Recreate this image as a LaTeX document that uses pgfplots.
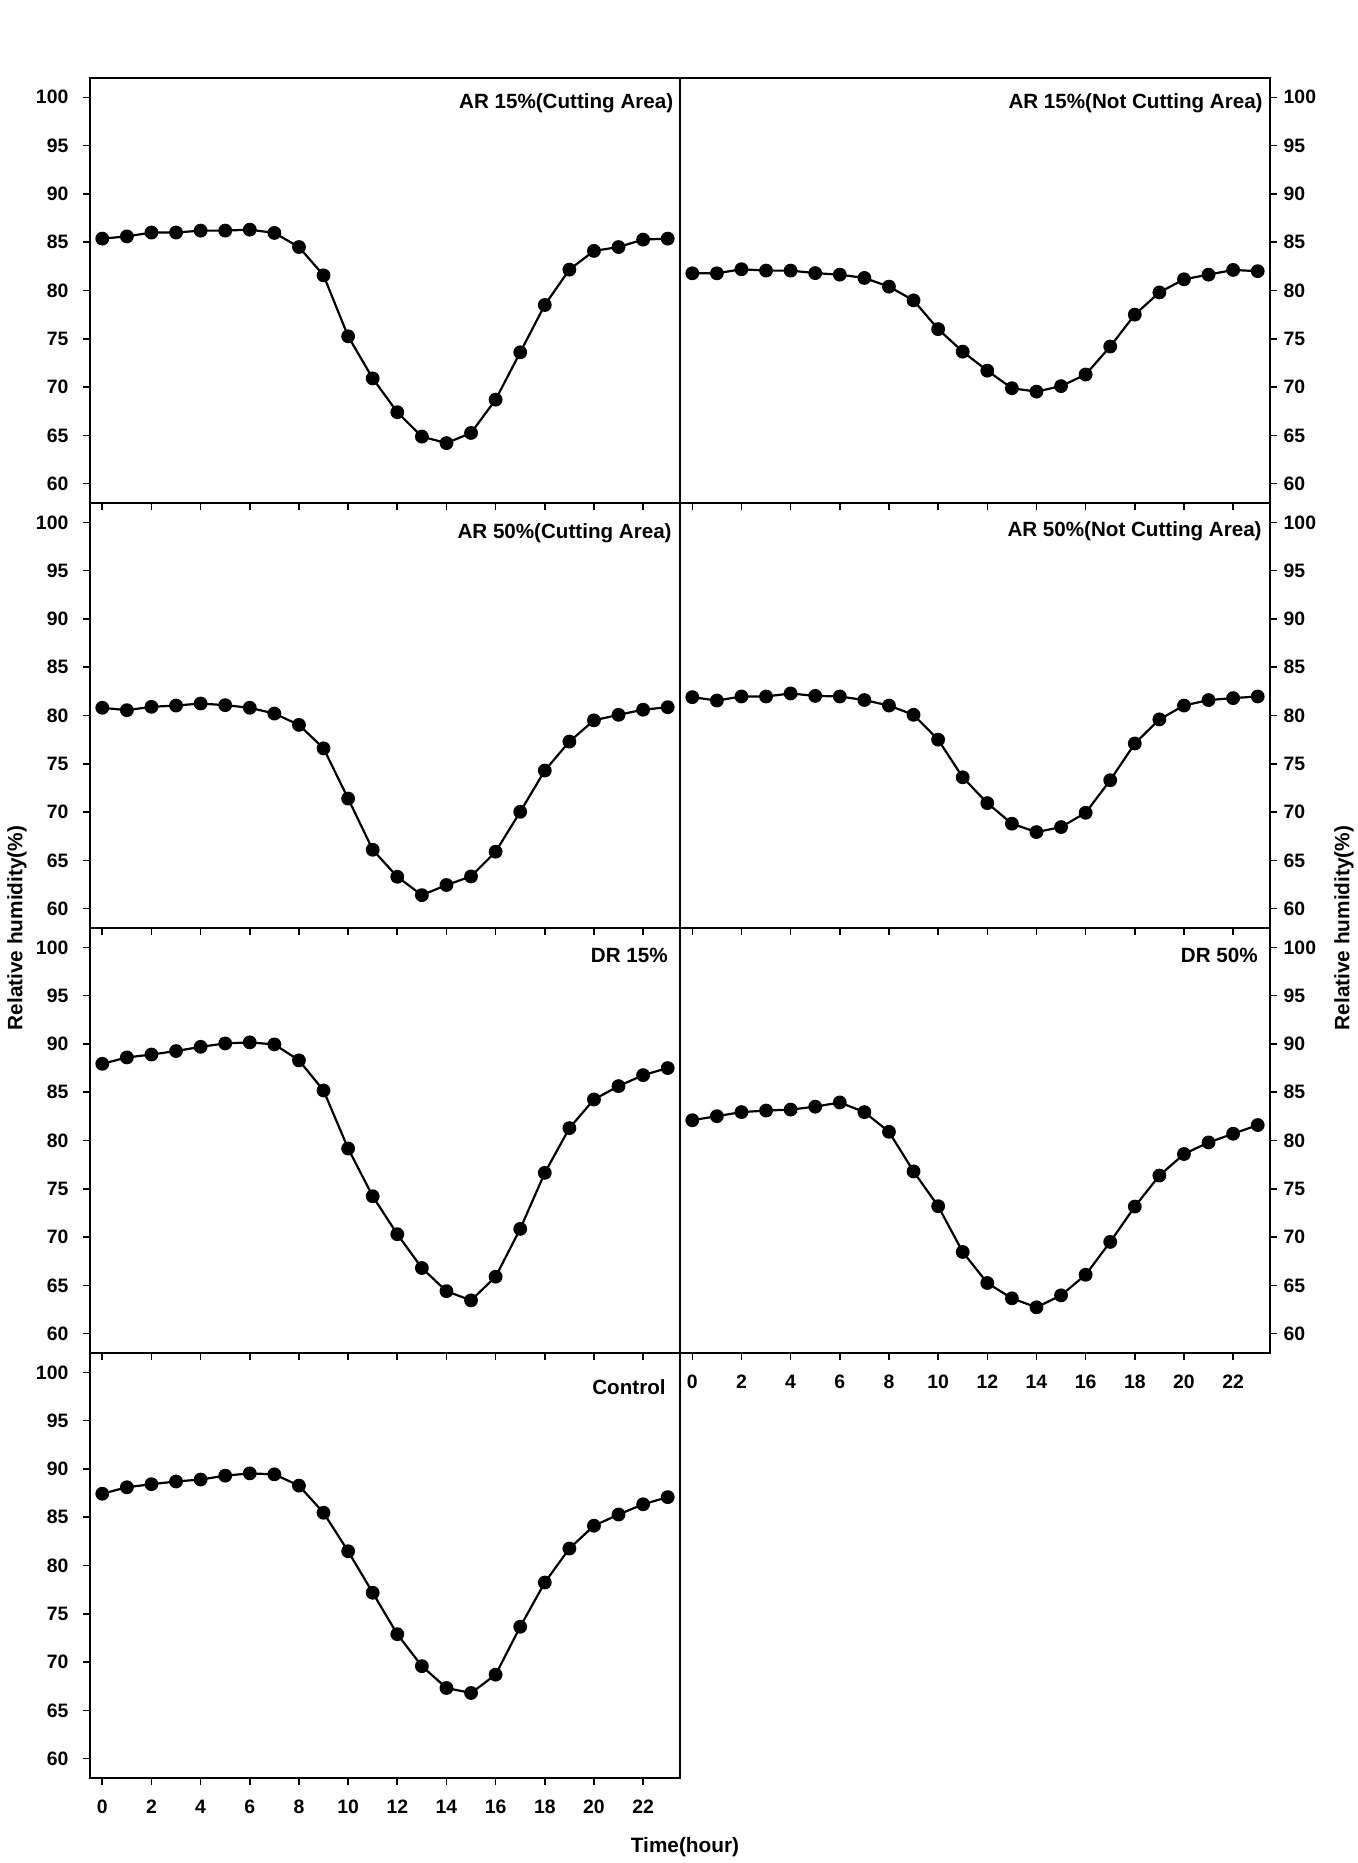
\documentclass[border=0pt]{standalone}
\usepackage{fontspec}
\setmainfont{Liberation Sans}
\usepackage{pgfplots}
\usepackage{pgfplotstable}
\pgfplotsset{compat=1.18}

\pgfplotstableread{
h  a      b      c      d      e      f      g
0  85.37  81.78  80.80  81.90  87.94  82.10  87.43
1  85.60  81.78  80.55  81.55  88.60  82.52  88.10
2  86.00  82.20  80.90  81.97  88.90  82.94  88.42
3  86.00  82.06  81.03  81.97  89.26  83.10  88.70
4  86.20  82.06  81.24  82.28  89.70  83.20  88.90
5  86.20  81.80  81.07  82.03  90.05  83.50  89.30
6  86.30  81.64  80.80  81.97  90.16  83.94  89.54
7  85.96  81.30  80.20  81.60  89.95  82.94  89.44
8  84.50  80.40  79.03  81.03  88.30  80.90  88.27
9  81.57  78.98  76.60  80.07  85.18  76.80  85.46
10 75.26  76.00  71.40  77.50  79.17  73.20  81.48
11 70.90  73.67  66.10  73.60  74.23  68.46  77.18
12 67.40  71.70  63.30  70.93  70.30  65.25  72.89
13 64.87  69.88  61.40  68.80  66.80  63.66  69.58
14 64.20  69.53  62.45  67.93  64.40  62.73  67.32
15 65.25  70.10  63.34  68.45  63.45  63.97  66.80
16 68.70  71.30  65.90  69.93  65.90  66.10  68.70
17 73.60  74.20  70.03  73.30  70.85  69.50  73.66
18 78.50  77.50  74.30  77.10  76.65  73.16  78.24
19 82.16  79.80  77.30  79.60  81.28  76.37  81.76
20 84.10  81.16  79.50  81.03  84.25  78.60  84.12
21 84.50  81.64  80.07  81.60  85.63  79.80  85.28
22 85.27  82.13  80.60  81.80  86.77  80.70  86.34
23 85.37  82.00  80.86  81.97  87.50  81.60  87.08
}\rhdata

\tikzset{
  ttl/.style={anchor=east, inner sep=0pt, font=\bfseries\fontsize{10.3}{12}\selectfont},
  rh/.style={black, line width=1.1pt, mark=*, mark size=2.9pt, mark options={fill=black}},
}
\pgfplotsset{
  panel/.style={
    scale only axis, width=295pt, height=212.5pt,
    xmin=-0.5, xmax=23.5, ymin=58, ymax=102,
    xtick={0,2,...,22}, ytick={60,65,...,100},
    tick align=outside, major tick length=3.3pt,
    xtick pos=bottom,
    axis line style={line width=1.4pt},
    every tick/.style={line width=0.8pt, black},
    tick label style={font=\bfseries\fontsize{9.7}{12}\selectfont},
    xticklabel style={yshift=-4pt},
    /pgf/number format/assume math mode=true,
    clip=false,
  },
  leftcol/.style={panel, ytick pos=left, yticklabel pos=left, yticklabel style={xshift=-4pt}},
  rightcol/.style={panel, ytick pos=right, yticklabel pos=right},
  nox/.style={xticklabels={}},
}

\begin{document}
\begin{tikzpicture}
\useasboundingbox (0pt,0pt) rectangle (679pt,-931.5pt);

\begin{axis}[leftcol, nox, at={(45pt,-39pt)}, anchor=north west]
  \addplot[rh] table[x=h, y=a] {\rhdata};
  \node[ttl] at ([xshift=-3.2pt,yshift=-12.5pt]rel axis cs:1,1) {AR 15\%(Cutting Area)};
\end{axis}

\begin{axis}[rightcol, nox, at={(340pt,-39pt)}, anchor=north west]
  \addplot[rh] table[x=h, y=b] {\rhdata};
  \node[ttl] at ([xshift=-3.5pt,yshift=-12.5pt]rel axis cs:1,1) {AR 15\%(Not Cutting Area)};
\end{axis}

\begin{axis}[leftcol, nox, at={(45pt,-251.5pt)}, anchor=north west]
  \addplot[rh] table[x=h, y=c] {\rhdata};
  \node[ttl] at ([xshift=-4pt,yshift=-15pt]rel axis cs:1,1) {AR 50\%(Cutting Area)};
\end{axis}

\begin{axis}[rightcol, nox, at={(340pt,-251.5pt)}, anchor=north west]
  \addplot[rh] table[x=h, y=d] {\rhdata};
  \node[ttl] at ([xshift=-4pt,yshift=-14pt]rel axis cs:1,1) {AR 50\%(Not Cutting Area)};
\end{axis}

\begin{axis}[leftcol, nox, at={(45pt,-464pt)}, anchor=north west]
  \addplot[rh] table[x=h, y=e] {\rhdata};
  \node[ttl] at ([xshift=-6pt,yshift=-13.5pt]rel axis cs:1,1) {DR 15\%};
\end{axis}

\begin{axis}[rightcol, at={(340pt,-464pt)}, anchor=north west]
  \addplot[rh] table[x=h, y=f] {\rhdata};
  \node[ttl] at ([xshift=-6pt,yshift=-13.5pt]rel axis cs:1,1) {DR 50\%};
\end{axis}

\begin{axis}[leftcol, at={(45pt,-676.5pt)}, anchor=north west]
  \addplot[rh] table[x=h, y=g] {\rhdata};
  \node[ttl] at ([xshift=-7pt,yshift=-17pt]rel axis cs:1,1) {Control};
\end{axis}

\node[rotate=90, font=\bfseries\fontsize{10.4}{12}\selectfont, inner sep=0pt] at (8.5pt,-464pt) {Relative humidity(\%)};
\node[rotate=90, font=\bfseries\fontsize{10.4}{12}\selectfont, inner sep=0pt] at (672pt,-464pt) {Relative humidity(\%)};
\node[font=\bfseries\fontsize{10.4}{12}\selectfont, inner sep=0pt] at (342.5pt,-923.5pt) {Time(hour)};
\end{tikzpicture}
\end{document}
